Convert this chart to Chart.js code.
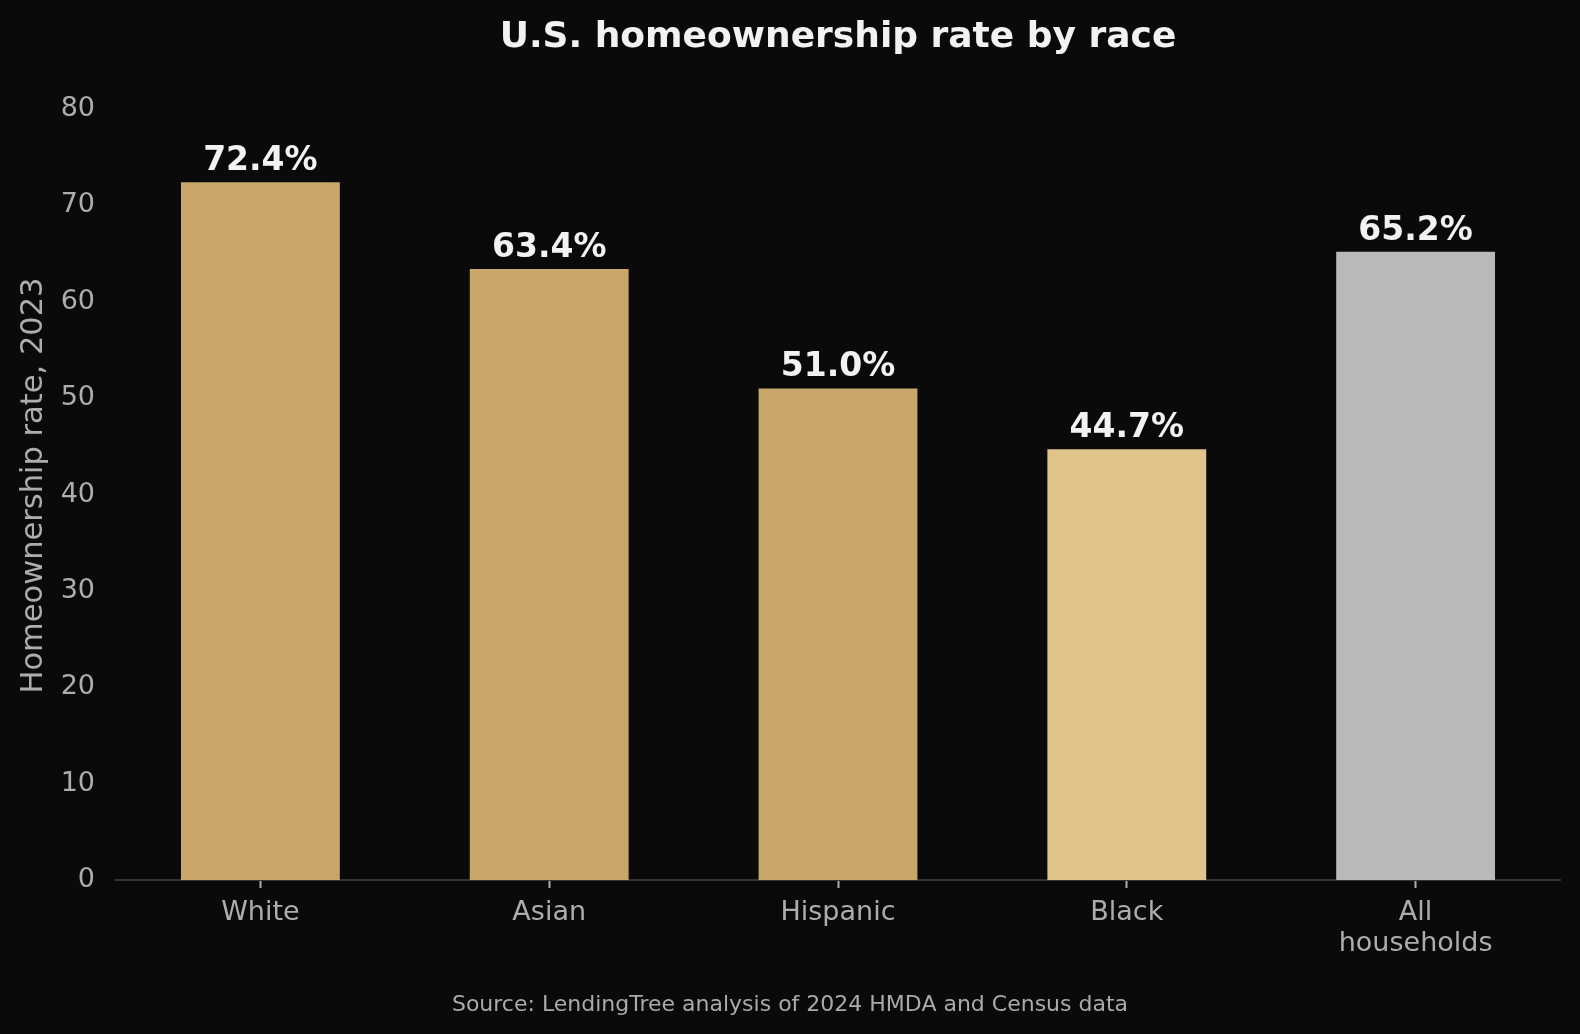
<!DOCTYPE html>
<html>
<head>
<meta charset="utf-8">
<script src="https://cdn.jsdelivr.net/npm/chart.js@4"></script>
<style>
  html, body { margin: 0; padding: 0; background: #0a0a0a; }
  #wrap { width: 1580px; height: 1034px; }
</style>
</head>
<body>
<div id="wrap"><canvas id="barChart"></canvas></div>
<script>
const categories = ["White", "Asian", "Hispanic", "Black", ["All", "households"]];
const rates = [72.4, 63.4, 51.0, 44.7, 65.2];
const barColors = ["#c9a76b", "#c9a76b", "#c9a76b", "#e1c48c", "#b9b9b9"];
const yTicks = [0, 10, 20, 30, 40, 50, 60, 70, 80];

const titleText = "U.S. homeownership rate by race";
const yTitleText = "Homeownership rate, 2023";
const sourceText = "Source: LendingTree analysis of 2024 HMDA and Census data";

const FONT = "'DejaVu Sans', sans-serif";
const TEXT_GREY = "#adadad";

// background, titles, labels on bars and the source line
const decorations = {
  id: "decorations",
  beforeDraw(chart) {
    const ctx = chart.ctx;
    ctx.save();
    ctx.fillStyle = "#0a0a0a";
    ctx.fillRect(0, 0, chart.width, chart.height);
    ctx.restore();
  },
  afterDatasetsDraw(chart) {
    const ctx = chart.ctx;
    const area = chart.chartArea;
    const meta = chart.getDatasetMeta(0);
    ctx.save();
    ctx.textAlign = "center";
    ctx.textBaseline = "alphabetic";

    ctx.font = "bold 33px " + FONT;
    ctx.fillStyle = "#f2f2f2";
    meta.data.forEach((bar, i) => {
      ctx.fillText(rates[i].toFixed(1) + "%", bar.x, bar.y - 12);
    });

    ctx.font = "bold 36px " + FONT;
    ctx.fillText(titleText, (area.left + area.right) / 2, 47);

    ctx.font = "22px " + FONT;
    ctx.fillStyle = "#aaaaaa";
    ctx.fillText(sourceText, chart.width / 2, 1011);

    // y axis title, a little above the plot centre like the original
    ctx.translate(34, (area.top + area.bottom) / 2 - 9);
    ctx.rotate(-Math.PI / 2);
    ctx.textBaseline = "middle";
    ctx.font = "30.5px " + FONT;
    ctx.fillStyle = TEXT_GREY;
    ctx.fillText(yTitleText, 0, 0);
    ctx.restore();
  },
};

const ctx = document.getElementById("barChart").getContext("2d");

new Chart(ctx, {
  type: "bar",
  data: {
    labels: categories,
    datasets: [
      {
        data: rates,
        backgroundColor: barColors,
        borderWidth: 0,
        barPercentage: 0.55,
        categoryPercentage: 1.0,
      },
    ],
  },
  options: {
    responsive: true,
    maintainAspectRatio: false,
    animation: false,
    layout: {
      padding: { left: 0, right: 20, top: 109, bottom: 0 },
    },
    scales: {
      x: {
        afterFit(axis) {
          axis.height = 154;
        },
        grid: {
          display: true,
          drawOnChartArea: false,
          drawTicks: true,
          tickLength: 8,
          tickWidth: 2,
          offset: false,
          color: TEXT_GREY,
        },
        border: { display: true, color: "#333333", width: 2 },
        ticks: {
          color: TEXT_GREY,
          font: { family: FONT, size: 27, lineHeight: 1.15 },
          padding: 9,
          maxRotation: 0,
        },
      },
      y: {
        min: 0,
        max: 80,
        afterBuildTicks(axis) {
          axis.ticks = yTicks.map((v) => ({ value: v }));
        },
        afterFit(axis) {
          axis.width = 116;
        },
        grid: { display: false, drawTicks: false },
        border: { display: false },
        ticks: {
          color: TEXT_GREY,
          font: { family: FONT, size: 27 },
          padding: 21,
        },
        title: { display: false },
      },
    },
    plugins: {
      legend: { display: false },
      tooltip: { enabled: false },
      title: { display: false },
    },
  },
  plugins: [decorations],
});
</script>
</body>
</html>
